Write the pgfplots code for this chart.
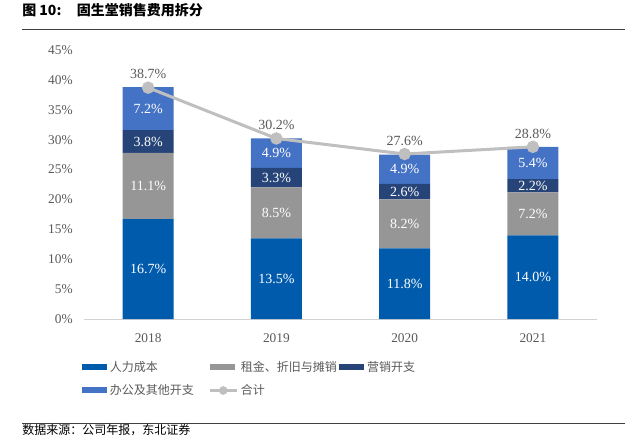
\documentclass[border=0pt]{standalone}
\usepackage{fontspec}
\setmainfont{Liberation Serif}
\newfontfamily\cjk{Noto Sans CJK SC}
\usepackage{pgfplots}
\pgfplotsset{compat=1.18}

\definecolor{cA}{RGB}{0,91,172}
\definecolor{cB}{RGB}{150,150,150}
\definecolor{cC}{RGB}{38,68,120}
\definecolor{cD}{RGB}{68,114,196}
\definecolor{cL}{RGB}{191,191,191}
\definecolor{tk}{RGB}{89,89,89}
\definecolor{rule}{RGB}{64,64,64}

\begin{document}
\begin{tikzpicture}
\useasboundingbox (0,0) rectangle (468.75pt,327pt);

% title and rules
\node[anchor=west, inner sep=0pt] at (16.5pt,319.5pt)
  {\fontsize{10.5}{12}\selectfont\cjk\bfseries 图 \textbf{10:}\hspace{1.1em}固生堂销售费用拆分};
\draw[rule, line width=0.75pt] (16.5pt,304.5pt) -- (468.75pt,304.5pt);
\draw[rule, line width=0.75pt] (16.5pt,9.75pt) -- (468.75pt,9.75pt);
\node[anchor=west, inner sep=0pt] at (16.5pt,4.6pt)
  {\fontsize{9}{10}\selectfont\cjk 数据来源：公司年报，东北证券};

% stacked bars
\begin{axis}[
  at={(63pt,87.75pt)}, anchor=south west,
  scale only axis, width=384.75pt, height=201.75pt,
  ybar stacked, bar width=38.25pt,
  xmin=-0.5, xmax=3.5, ymin=0, ymax=45,
  xtick={0,1,2,3}, xticklabels={2018,2019,2020,2021},
  ytick={0,5,...,45},
  yticklabel={\pgfmathprintnumber{\tick}\%},
  /pgf/number format/assume math mode=true,
  major tick length=0pt,
  axis x line*=bottom, axis y line*=left,
  y axis line style={draw=none},
  x axis line style={draw=cL!70, line width=0.75pt, -},
  tick label style={font=\fontsize{10}{12}\selectfont, text=tk},
  yticklabel style={xshift=-5pt},
  xticklabel style={yshift=-7.5pt},
  legend style={
    at={(-0.012,-0.135)}, anchor=north west,
    draw=none, fill=none,
    font=\color{tk}\fontsize{9}{10}\selectfont\cjk,
    legend columns=3,
    row sep=4.5pt,
    nodes={text width=72pt},
    legend cell align=left,
  },
  legend image code/.code={\fill[#1] (0pt,-2.25pt) rectangle (18.75pt,2.25pt);},
]
\addplot[fill=cA, draw=none] coordinates {(0,16.7) (1,13.5) (2,11.8) (3,14.0)};
\addplot[fill=cB, draw=none] coordinates {(0,11.1) (1,8.5) (2,8.2) (3,7.2)};
\addplot[fill=cC, draw=none] coordinates {(0,3.8) (1,3.3) (2,2.6) (3,2.2)};
\addplot[fill=cD, draw=none] coordinates {(0,7.2) (1,4.9) (2,4.9) (3,5.4)};
\addlegendimage{legend image code/.code={
  \draw[cL, line width=2.25pt] (0pt,0pt) -- (20pt,0pt);
  \fill[cL] (10pt,0pt) circle (3pt);}}
\legend{人力成本, 租金、折旧与摊销, 营销开支, 办公及其他开支, 合计}
\end{axis}

% total line and segment labels
\begin{axis}[
  at={(63pt,87.75pt)}, anchor=south west,
  scale only axis, width=384.75pt, height=201.75pt,
  xmin=-0.5, xmax=3.5, ymin=0, ymax=45,
  hide axis, clip=false,
]
\addplot[cL, line width=2.25pt, mark=*, mark size=3.5pt,
  point meta=explicit symbolic,
  nodes near coords={\pgfplotspointmeta\%},
  every node near coord/.style={anchor=south, yshift=2pt, text=tk,
    font=\fontsize{10.5}{12}\selectfont}]
  coordinates {(0,38.7) [38.7] (1,30.2) [30.2] (2,27.6) [27.6] (3,28.8) [28.8]};
\addplot[draw=none, mark=none,
  point meta=explicit symbolic,
  nodes near coords={\pgfplotspointmeta\%},
  every node near coord/.style={anchor=center, text=white,
    font=\fontsize{10.5}{12}\selectfont}]
  coordinates {
    (0,8.35) [16.7] (1,6.75) [13.5] (2,5.9) [11.8] (3,7.0) [14.0]
    (0,22.25) [11.1] (1,17.75) [8.5] (2,15.9) [8.2] (3,17.6) [7.2]
    (0,29.7) [3.8] (1,23.65) [3.3] (2,21.3) [2.6] (3,22.3) [2.2]
    (0,35.2) [7.2] (1,27.75) [4.9] (2,25.05) [4.9] (3,26.1) [5.4]
  };
\end{axis}
\end{tikzpicture}
\end{document}
